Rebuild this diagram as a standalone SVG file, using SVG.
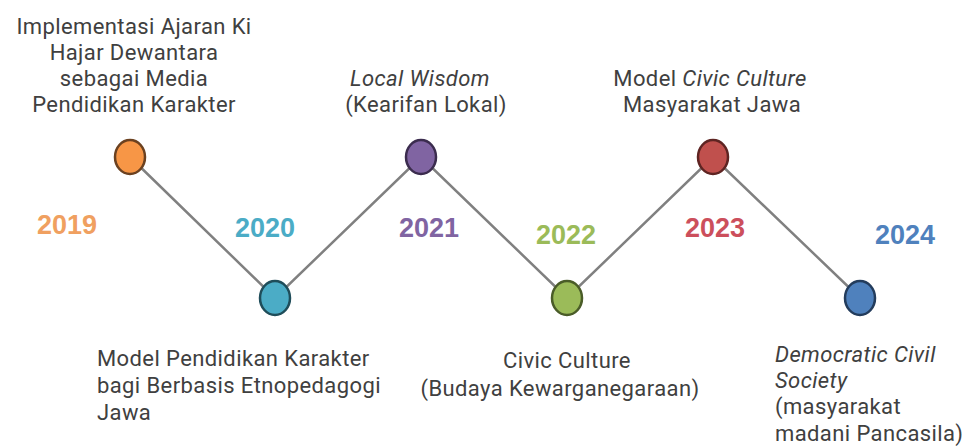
<svg xmlns="http://www.w3.org/2000/svg" width="970" height="446" viewBox="0 0 970 446">
  <style>
    .lbl { font-family: Roboto, "Liberation Sans", sans-serif; font-size: 22px; letter-spacing: 0.4px; fill: #404040; }
    .mid { text-anchor: middle; }
    .it { font-style: italic; }
    .yr { font-family: "Liberation Sans", Arial, sans-serif; font-size: 27px; font-weight: bold; text-anchor: middle; }
    .link { stroke: #808080; stroke-width: 2.5; fill: none; }
    .dot { stroke-width: 2.5; }
  </style>
  <rect width="970" height="446" fill="#ffffff"/>

  <!-- zigzag timeline -->
  <g id="connectors">
    <polyline class="link" points="130,157 275,298 421,157 567,298 713,157 860,298"/>
  </g>

  <g id="node-2019">
    <ellipse class="dot" cx="130" cy="157" rx="15" ry="17" fill="#F79646" stroke="#6b4120"/>
    <text class="yr" x="67" y="234" fill="#F0A060">2019</text>
    <text class="lbl mid" x="134" y="34">Implementasi Ajaran Ki</text>
    <text class="lbl mid" x="134" y="60">Hajar Dewantara</text>
    <text class="lbl mid" x="134" y="86">sebagai Media</text>
    <text class="lbl mid" x="134" y="112">Pendidikan Karakter</text>
  </g>

  <g id="node-2020">
    <ellipse class="dot" cx="275" cy="298" rx="15" ry="17" fill="#4BACC6" stroke="#1f4d5a"/>
    <text class="yr" x="265" y="237" fill="#4BACC6">2020</text>
    <text class="lbl" x="97" y="366">Model Pendidikan Karakter</text>
    <text class="lbl" x="97" y="393">bagi Berbasis Etnopedagogi</text>
    <text class="lbl" x="97" y="420">Jawa</text>
  </g>

  <g id="node-2021">
    <ellipse class="dot" cx="421" cy="157" rx="15" ry="17" fill="#8064A2" stroke="#3b2c4e"/>
    <text class="yr" x="429" y="237" fill="#8064A2">2021</text>
    <text class="lbl mid it" x="420" y="86">Local Wisdom</text>
    <text class="lbl mid" x="426" y="112">(Kearifan Lokal)</text>
  </g>

  <g id="node-2022">
    <ellipse class="dot" cx="567" cy="298" rx="15" ry="17" fill="#9BBB59" stroke="#4a5c28"/>
    <text class="yr" x="566" y="244" fill="#9BBB59">2022</text>
    <text class="lbl mid" x="567" y="368">Civic Culture</text>
    <text class="lbl mid" x="560" y="396">(Budaya Kewarganegaraan)</text>
  </g>

  <g id="node-2023">
    <ellipse class="dot" cx="713" cy="157" rx="15" ry="17" fill="#C0504D" stroke="#5e2422"/>
    <text class="yr" x="715" y="237" fill="#CC4F5C">2023</text>
    <text class="lbl mid" x="710" y="86">Model <tspan class="it">Civic Culture</tspan></text>
    <text class="lbl mid" x="712" y="112">Masyarakat Jawa</text>
  </g>

  <g id="node-2024">
    <ellipse class="dot" cx="860" cy="298" rx="15" ry="17" fill="#4F81BD" stroke="#233c5c"/>
    <text class="yr" x="905" y="244" fill="#4F81BD">2024</text>
    <text class="lbl it" x="775" y="362">Democratic Civil</text>
    <text class="lbl it" x="775" y="388">Society</text>
    <text class="lbl" x="775" y="414">(masyarakat</text>
    <text class="lbl" x="775" y="441">madani Pancasila)</text>
  </g>
</svg>
